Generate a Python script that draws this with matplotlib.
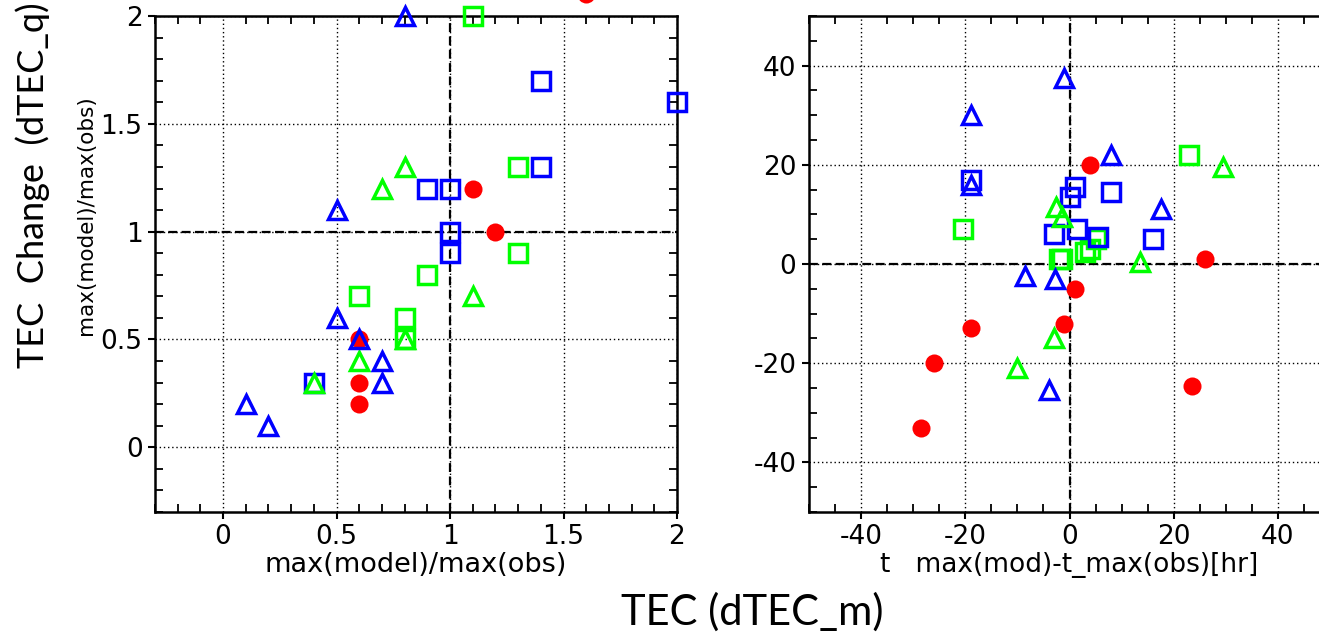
import matplotlib
matplotlib.use('Agg')
import matplotlib.pyplot as plt
from matplotlib.ticker import MultipleLocator

# ---- left panel: max(model)/max(obs) ----
l_red_x = [1.6, 1.1, 1.2, 0.6, 0.6, 0.6]
l_red_y = [2.1, 1.2, 1.0, 0.5, 0.3, 0.2]
l_gsq_x = [1.1, 1.3, 1.3, 0.9, 0.6, 0.8, 0.8]
l_gsq_y = [2.0, 1.3, 0.9, 0.8, 0.7, 0.6, 0.5]
l_bsq_x = [1.4, 2.0, 1.4, 0.9, 1.0, 1.0, 1.0, 0.4]
l_bsq_y = [1.7, 1.6, 1.3, 1.2, 1.2, 1.0, 0.9, 0.3]
l_gtr_x = [0.8, 0.7, 1.1, 0.8, 0.6, 0.4]
l_gtr_y = [1.3, 1.2, 0.7, 0.5, 0.4, 0.3]
l_btr_x = [0.8, 0.5, 0.5, 0.6, 0.7, 0.7, 0.1, 0.2]
l_btr_y = [2.0, 1.1, 0.6, 0.5, 0.4, 0.3, 0.2, 0.1]

# ---- right panel: t_max(mod)-t_max(obs) [hr] ----
r_red_x = [4, 26, 1, -1, -19, -26, 23.5, -28.5]
r_red_y = [20, 1, -5, -12, -13, -20, -24.5, -33]
r_gsq_x = [23, -20.5, -2, -1.5, 3, 4, 5]
r_gsq_y = [22, 7, 1, 1, 2.5, 3, 5]
r_bsq_x = [-19, 1, 0, 8, -3, 1.5, 5.5, 16]
r_bsq_y = [17, 15.5, 13.5, 14.5, 6, 7, 5.5, 5]
r_gtr_x = [29.5, -2.5, -1.5, 13.5, -3, -10]
r_gtr_y = [19.5, 11.5, 9.5, 0.5, -15, -21]
r_btr_x = [-1, -19, -19, 8, 17.5, -8.5, -2.7, -4]
r_btr_y = [37.5, 30, 16, 22, 11, -2.5, -3, -25.5]

BLUE = '#0000ff'
GREEN = '#00ff00'
RED = '#ff0000'

plt.rcParams['font.family'] = ['DejaVu Sans']
plt.rcParams['axes.unicode_minus'] = False

fig = plt.figure(figsize=(13.19, 6.37), dpi=100)
ax1 = fig.add_axes([155 / 1319, 125 / 637, 522 / 1319, 496 / 637])
ax2 = fig.add_axes([809 / 1319, 125 / 637, 521 / 1319, 496 / 637])


def draw_points(ax, red, gsq, bsq, gtr, btr):
    ax.plot(red[0], red[1], 'o', color=RED, markersize=13, markeredgewidth=0,
            clip_on=False, zorder=3)
    ax.plot(gsq[0], gsq[1], 's', markerfacecolor='none', markeredgecolor=GREEN,
            markersize=12.5, markeredgewidth=2.5, clip_on=False, zorder=4)
    ax.plot(bsq[0], bsq[1], 's', markerfacecolor='none', markeredgecolor=BLUE,
            markersize=12.5, markeredgewidth=2.5, clip_on=False, zorder=4)
    ax.plot(gtr[0], gtr[1], '^', markerfacecolor='none', markeredgecolor=GREEN,
            markersize=12.5, markeredgewidth=2.5, clip_on=False, zorder=5)
    ax.plot(btr[0], btr[1], '^', markerfacecolor='none', markeredgecolor=BLUE,
            markersize=12.5, markeredgewidth=2.5, clip_on=False, zorder=5)


def style_axes(ax, major, minor, ref):
    ax.xaxis.set_major_locator(MultipleLocator(major[0]))
    ax.yaxis.set_major_locator(MultipleLocator(major[1]))
    ax.xaxis.set_minor_locator(MultipleLocator(minor[0]))
    ax.yaxis.set_minor_locator(MultipleLocator(minor[1]))
    ax.grid(True, which='major', color='black', linestyle=(0, (1, 2)), linewidth=1)
    ax.axvline(ref[0], color='black', linestyle=(0, (4, 2)), linewidth=1.6, zorder=2)
    ax.axhline(ref[1], color='black', linestyle=(0, (4, 2)), linewidth=1.6, zorder=2)
    ax.tick_params(which='major', direction='out', length=5, width=1.5,
                   labelsize=19, pad=4)
    ax.tick_params(which='minor', direction='in', length=6, width=1.3,
                   top=True, right=True)
    for s in ax.spines.values():
        s.set_linewidth(1.8)


draw_points(ax1, (l_red_x, l_red_y), (l_gsq_x, l_gsq_y), (l_bsq_x, l_bsq_y),
            (l_gtr_x, l_gtr_y), (l_btr_x, l_btr_y))
ax1.set_xlim(-0.3, 2)
ax1.set_ylim(-0.3, 2)
style_axes(ax1, (0.5, 0.5), (0.1, 0.1), (1, 1))
ax1.set_xticks([0, 0.5, 1, 1.5, 2])
ax1.set_xticklabels(['0', '0.5', '1', '1.5', '2'])
ax1.set_yticks([0, 0.5, 1, 1.5, 2])
ax1.set_yticklabels(['0', '0.5', '1', '1.5', '2'])
ax1.set_xlabel('max(model)/max(obs)', fontsize=19.5, labelpad=1)

draw_points(ax2, (r_red_x, r_red_y), (r_gsq_x, r_gsq_y), (r_bsq_x, r_bsq_y),
            (r_gtr_x, r_gtr_y), (r_btr_x, r_btr_y))
ax2.set_xlim(-50, 50)
ax2.set_ylim(-50, 50)
style_axes(ax2, (20, 20), (5, 5), (0, 0))
ax2.set_xlabel('t   max(mod)-t_max(obs)[hr]', fontsize=19, labelpad=1)

# y label of the left panel and the overall slide labels
fig.text(86 / 1319, 1 - 215 / 637, 'max(model)/max(obs)', rotation=90,
         fontsize=15.5, ha='center', va='center')
fig.text(33 / 1319, 1 - 185 / 637, 'TEC  Change  (dTEC_q)', rotation=90,
         fontsize=26, family='Lato', ha='center', va='center')
fig.text(752 / 1319, 1 - 612 / 637, 'TEC (dTEC_m)', fontsize=30, family='Lato',
         ha='center', va='center')

fig.savefig('out.png', dpi=100)
